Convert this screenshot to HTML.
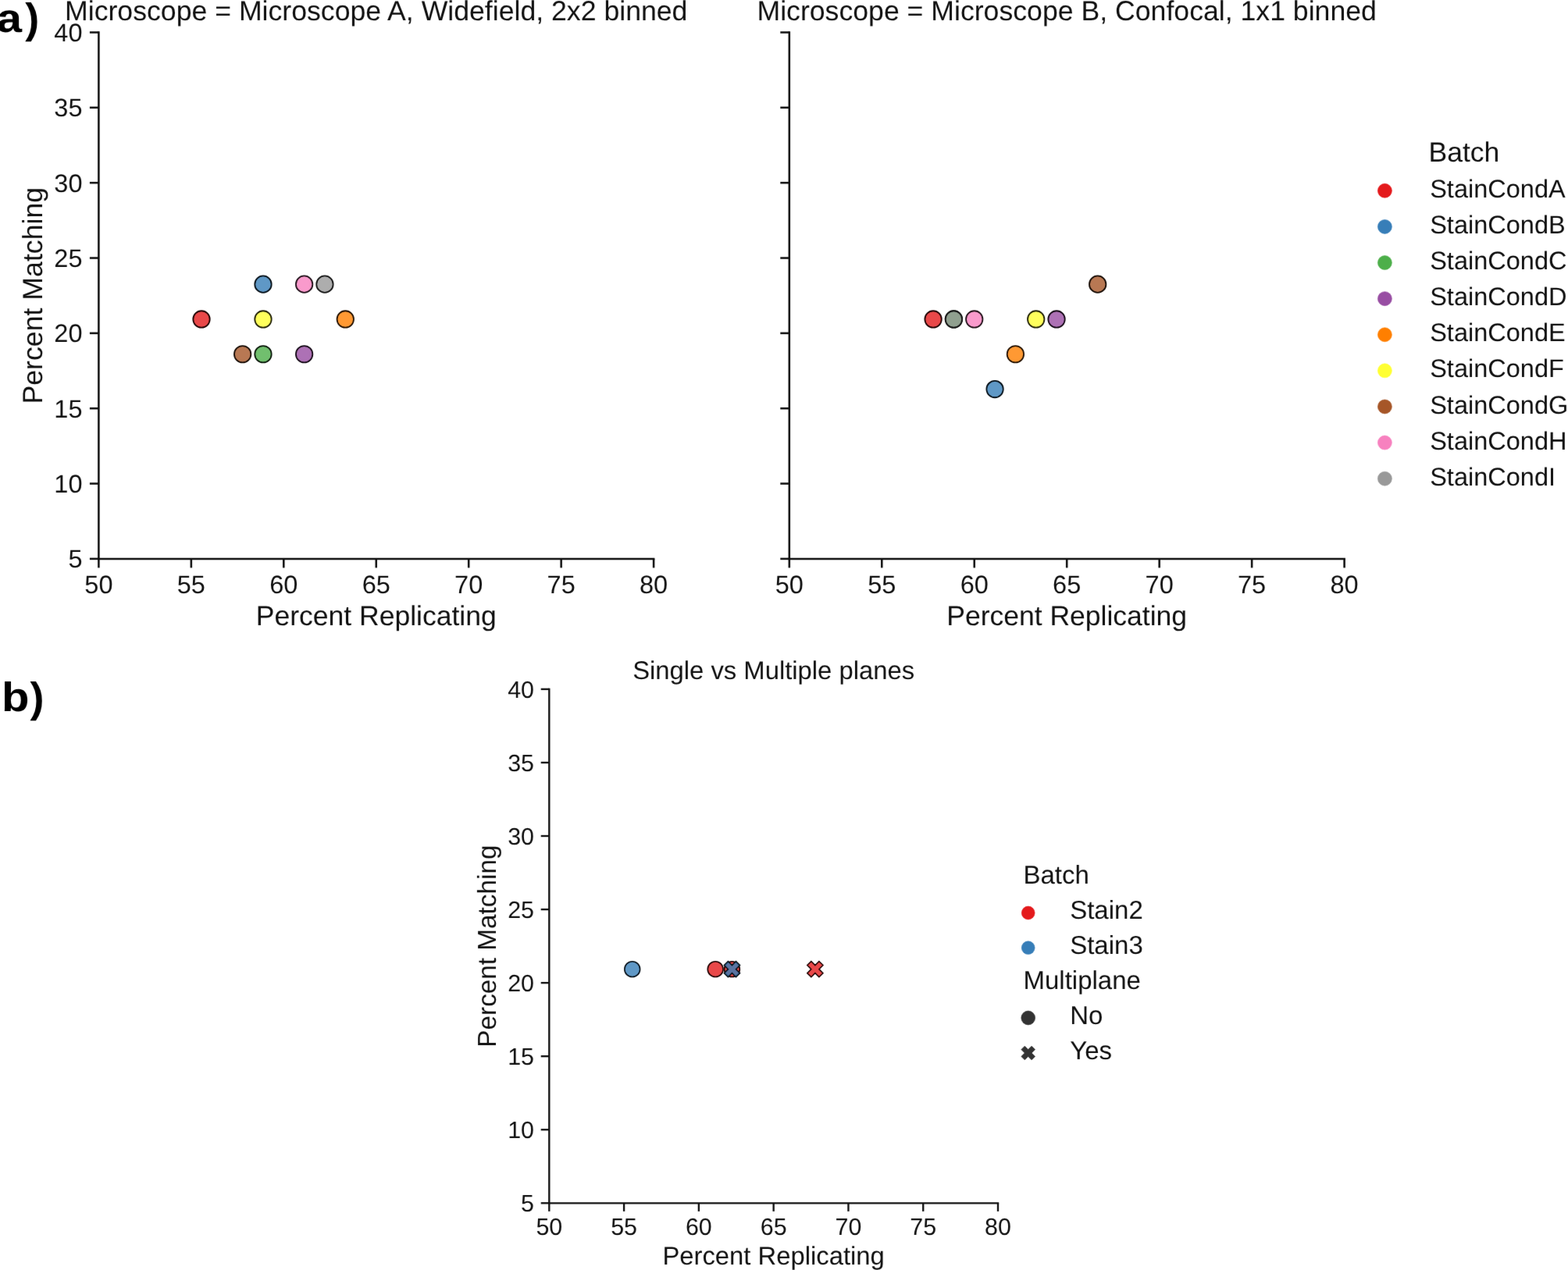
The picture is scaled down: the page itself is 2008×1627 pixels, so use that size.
<!DOCTYPE html>
<html><head><meta charset="utf-8"><title>Figure</title>
<style>html,body{margin:0;padding:0;background:#fff;width:2008px;height:1627px;overflow:hidden} svg{display:block}</style>
</head><body>
<svg width="2008" height="1627" viewBox="0 0 2008 1627" font-family="'Liberation Sans', Arial, Helvetica, sans-serif" fill="#111" text-rendering="geometricPrecision">
<defs><filter id="soft" x="0" y="0" width="100%" height="100%" filterUnits="userSpaceOnUse" color-interpolation-filters="sRGB"><feConvolveMatrix order="3" kernelMatrix="0.00276 0.04704 0.00276 0.04704 0.80077 0.04704 0.00276 0.04704 0.00276" edgeMode="duplicate"/></filter></defs>
<g filter="url(#soft)">
<rect width="2008" height="1627" fill="#fff"/>
<g font-size="54" font-weight="bold" fill="#000">
<text transform="translate(-4.25,40.8) scale(1.075,0.955)">a</text>
<text x="32.3" y="41.7">)</text>
<text transform="translate(1.95,910.6) scale(1.075,0.9725)">b</text>
<text x="38.5" y="911.6">)</text>
</g>
<line x1="126.4" y1="715.9" x2="126.4" y2="40.225" stroke="#111" stroke-width="2.55" stroke-linecap="butt"/>
<line x1="125.125" y1="715.9" x2="838.375" y2="715.9" stroke="#111" stroke-width="2.55"/>
<line x1="114.9" y1="715.90" x2="126.4" y2="715.90" stroke="#111" stroke-width="2.55"/>
<text x="105.5" y="715.90" dy="0.355em" text-anchor="end" font-size="32.5">5</text>
<line x1="114.9" y1="619.56" x2="126.4" y2="619.56" stroke="#111" stroke-width="2.55"/>
<text x="105.5" y="619.56" dy="0.355em" text-anchor="end" font-size="32.5">10</text>
<line x1="114.9" y1="523.21" x2="126.4" y2="523.21" stroke="#111" stroke-width="2.55"/>
<text x="105.5" y="523.21" dy="0.355em" text-anchor="end" font-size="32.5">15</text>
<line x1="114.9" y1="426.87" x2="126.4" y2="426.87" stroke="#111" stroke-width="2.55"/>
<text x="105.5" y="426.87" dy="0.355em" text-anchor="end" font-size="32.5">20</text>
<line x1="114.9" y1="330.53" x2="126.4" y2="330.53" stroke="#111" stroke-width="2.55"/>
<text x="105.5" y="330.53" dy="0.355em" text-anchor="end" font-size="32.5">25</text>
<line x1="114.9" y1="234.19" x2="126.4" y2="234.19" stroke="#111" stroke-width="2.55"/>
<text x="105.5" y="234.19" dy="0.355em" text-anchor="end" font-size="32.5">30</text>
<line x1="114.9" y1="137.84" x2="126.4" y2="137.84" stroke="#111" stroke-width="2.55"/>
<text x="105.5" y="137.84" dy="0.355em" text-anchor="end" font-size="32.5">35</text>
<line x1="114.9" y1="41.50" x2="126.4" y2="41.50" stroke="#111" stroke-width="2.55"/>
<text x="105.5" y="41.50" dy="0.355em" text-anchor="end" font-size="32.5">40</text>
<line x1="126.40" y1="715.9" x2="126.40" y2="727.4" stroke="#111" stroke-width="2.55"/>
<text x="126.40" y="759.55" text-anchor="middle" font-size="32.5">50</text>
<line x1="244.85" y1="715.9" x2="244.85" y2="727.4" stroke="#111" stroke-width="2.55"/>
<text x="244.85" y="759.55" text-anchor="middle" font-size="32.5">55</text>
<line x1="363.30" y1="715.9" x2="363.30" y2="727.4" stroke="#111" stroke-width="2.55"/>
<text x="363.30" y="759.55" text-anchor="middle" font-size="32.5">60</text>
<line x1="481.75" y1="715.9" x2="481.75" y2="727.4" stroke="#111" stroke-width="2.55"/>
<text x="481.75" y="759.55" text-anchor="middle" font-size="32.5">65</text>
<line x1="600.20" y1="715.9" x2="600.20" y2="727.4" stroke="#111" stroke-width="2.55"/>
<text x="600.20" y="759.55" text-anchor="middle" font-size="32.5">70</text>
<line x1="718.65" y1="715.9" x2="718.65" y2="727.4" stroke="#111" stroke-width="2.55"/>
<text x="718.65" y="759.55" text-anchor="middle" font-size="32.5">75</text>
<line x1="837.10" y1="715.9" x2="837.10" y2="727.4" stroke="#111" stroke-width="2.55"/>
<text x="837.10" y="759.55" text-anchor="middle" font-size="32.5">80</text>
<line x1="1010.8" y1="715.9" x2="1010.8" y2="40.225" stroke="#111" stroke-width="2.55" stroke-linecap="butt"/>
<line x1="1009.525" y1="715.9" x2="1722.875" y2="715.9" stroke="#111" stroke-width="2.55"/>
<line x1="999.3" y1="715.90" x2="1010.8" y2="715.90" stroke="#111" stroke-width="2.55"/>
<line x1="999.3" y1="619.56" x2="1010.8" y2="619.56" stroke="#111" stroke-width="2.55"/>
<line x1="999.3" y1="523.21" x2="1010.8" y2="523.21" stroke="#111" stroke-width="2.55"/>
<line x1="999.3" y1="426.87" x2="1010.8" y2="426.87" stroke="#111" stroke-width="2.55"/>
<line x1="999.3" y1="330.53" x2="1010.8" y2="330.53" stroke="#111" stroke-width="2.55"/>
<line x1="999.3" y1="234.19" x2="1010.8" y2="234.19" stroke="#111" stroke-width="2.55"/>
<line x1="999.3" y1="137.84" x2="1010.8" y2="137.84" stroke="#111" stroke-width="2.55"/>
<line x1="999.3" y1="41.50" x2="1010.8" y2="41.50" stroke="#111" stroke-width="2.55"/>
<line x1="1010.80" y1="715.9" x2="1010.80" y2="727.4" stroke="#111" stroke-width="2.55"/>
<text x="1010.80" y="759.55" text-anchor="middle" font-size="32.5">50</text>
<line x1="1129.27" y1="715.9" x2="1129.27" y2="727.4" stroke="#111" stroke-width="2.55"/>
<text x="1129.27" y="759.55" text-anchor="middle" font-size="32.5">55</text>
<line x1="1247.73" y1="715.9" x2="1247.73" y2="727.4" stroke="#111" stroke-width="2.55"/>
<text x="1247.73" y="759.55" text-anchor="middle" font-size="32.5">60</text>
<line x1="1366.20" y1="715.9" x2="1366.20" y2="727.4" stroke="#111" stroke-width="2.55"/>
<text x="1366.20" y="759.55" text-anchor="middle" font-size="32.5">65</text>
<line x1="1484.67" y1="715.9" x2="1484.67" y2="727.4" stroke="#111" stroke-width="2.55"/>
<text x="1484.67" y="759.55" text-anchor="middle" font-size="32.5">70</text>
<line x1="1603.13" y1="715.9" x2="1603.13" y2="727.4" stroke="#111" stroke-width="2.55"/>
<text x="1603.13" y="759.55" text-anchor="middle" font-size="32.5">75</text>
<line x1="1721.60" y1="715.9" x2="1721.60" y2="727.4" stroke="#111" stroke-width="2.55"/>
<text x="1721.60" y="759.55" text-anchor="middle" font-size="32.5">80</text>
<text x="481.75" y="26.3" text-anchor="middle" font-size="35.65">Microscope = Microscope A, Widefield, 2x2 binned</text>
<text x="1366.20" y="26.3" text-anchor="middle" font-size="35.65">Microscope = Microscope B, Confocal, 1x1 binned</text>
<text x="481.75" y="801.1" text-anchor="middle" font-size="35.5">Percent Replicating</text>
<text x="1366.20" y="801.1" text-anchor="middle" font-size="35.5">Percent Replicating</text>
<text transform="translate(53.8,378.70) rotate(-90)" x="0" y="0" text-anchor="middle" font-size="35.7">Percent Matching</text>
<circle cx="258.01" cy="408.95" r="10.7" fill="#e41a1c" fill-opacity="0.8" stroke="#1f0303" stroke-width="1.8"/>
<circle cx="336.98" cy="364.14" r="10.7" fill="#377eb8" fill-opacity="0.8" stroke="#071119" stroke-width="1.8"/>
<circle cx="336.98" cy="453.76" r="10.7" fill="#4daf4a" fill-opacity="0.8" stroke="#0a180a" stroke-width="1.8"/>
<circle cx="389.62" cy="453.76" r="10.7" fill="#984ea3" fill-opacity="0.8" stroke="#150a16" stroke-width="1.8"/>
<circle cx="442.27" cy="408.95" r="10.7" fill="#ff7f00" fill-opacity="0.8" stroke="#231100" stroke-width="1.8"/>
<circle cx="336.98" cy="408.95" r="10.7" fill="#ffff33" fill-opacity="0.8" stroke="#232307" stroke-width="1.8"/>
<circle cx="310.66" cy="453.76" r="10.7" fill="#a65628" fill-opacity="0.8" stroke="#170c05" stroke-width="1.8"/>
<circle cx="389.62" cy="364.14" r="10.7" fill="#f781bf" fill-opacity="0.8" stroke="#22121a" stroke-width="1.8"/>
<circle cx="415.94" cy="364.14" r="10.7" fill="#999999" fill-opacity="0.8" stroke="#151515" stroke-width="1.8"/>
<circle cx="1195.08" cy="408.95" r="10.7" fill="#e41a1c" fill-opacity="0.8" stroke="#1f0303" stroke-width="1.8"/>
<circle cx="1274.06" cy="498.57" r="10.7" fill="#377eb8" fill-opacity="0.8" stroke="#071119" stroke-width="1.8"/>
<circle cx="1221.41" cy="408.95" r="10.7" fill="#4daf4a" fill-opacity="0.8" stroke="#0a180a" stroke-width="1.8"/>
<circle cx="1353.04" cy="408.95" r="10.7" fill="#984ea3" fill-opacity="0.8" stroke="#150a16" stroke-width="1.8"/>
<circle cx="1300.39" cy="453.76" r="10.7" fill="#ff7f00" fill-opacity="0.8" stroke="#231100" stroke-width="1.8"/>
<circle cx="1326.71" cy="408.95" r="10.7" fill="#ffff33" fill-opacity="0.8" stroke="#232307" stroke-width="1.8"/>
<circle cx="1405.69" cy="364.14" r="10.7" fill="#a65628" fill-opacity="0.8" stroke="#170c05" stroke-width="1.8"/>
<circle cx="1247.73" cy="408.95" r="10.7" fill="#f781bf" fill-opacity="0.8" stroke="#22121a" stroke-width="1.8"/>
<circle cx="1221.41" cy="408.95" r="10.7" fill="#999999" fill-opacity="0.8" stroke="#151515" stroke-width="1.8"/>
<text x="1829.5" y="206.7" font-size="35.5">Batch</text>
<circle cx="1773.4" cy="244.30" r="9.0" fill="#e41a1c" stroke="#e41a1c" stroke-width="0.6"/>
<text x="1831.2" y="252.90" font-size="32.5">StainCondA</text>
<circle cx="1773.4" cy="290.41" r="9.0" fill="#377eb8" stroke="#377eb8" stroke-width="0.6"/>
<text x="1831.2" y="299.01" font-size="32.5">StainCondB</text>
<circle cx="1773.4" cy="336.52" r="9.0" fill="#4daf4a" stroke="#4daf4a" stroke-width="0.6"/>
<text x="1831.2" y="345.12" font-size="32.5">StainCondC</text>
<circle cx="1773.4" cy="382.63" r="9.0" fill="#984ea3" stroke="#984ea3" stroke-width="0.6"/>
<text x="1831.2" y="391.23" font-size="32.5">StainCondD</text>
<circle cx="1773.4" cy="428.74" r="9.0" fill="#ff7f00" stroke="#ff7f00" stroke-width="0.6"/>
<text x="1831.2" y="437.34" font-size="32.5">StainCondE</text>
<circle cx="1773.4" cy="474.85" r="9.0" fill="#ffff33" stroke="#ffff33" stroke-width="0.6"/>
<text x="1831.2" y="483.45" font-size="32.5">StainCondF</text>
<circle cx="1773.4" cy="520.96" r="9.0" fill="#a65628" stroke="#a65628" stroke-width="0.6"/>
<text x="1831.2" y="529.56" font-size="32.5">StainCondG</text>
<circle cx="1773.4" cy="567.07" r="9.0" fill="#f781bf" stroke="#f781bf" stroke-width="0.6"/>
<text x="1831.2" y="575.67" font-size="32.5">StainCondH</text>
<circle cx="1773.4" cy="613.18" r="9.0" fill="#999999" stroke="#999999" stroke-width="0.6"/>
<text x="1831.2" y="621.78" font-size="32.5">StainCondI</text>
<line x1="703.3" y1="1541.3" x2="703.3" y2="881.725" stroke="#111" stroke-width="2.35" stroke-linecap="butt"/>
<line x1="702.125" y1="1541.3" x2="1279.175" y2="1541.3" stroke="#111" stroke-width="2.35"/>
<line x1="692.6999999999999" y1="1541.30" x2="703.3" y2="1541.30" stroke="#111" stroke-width="2.35"/>
<text x="684.0" y="1541.30" dy="0.355em" text-anchor="end" font-size="30.4">5</text>
<line x1="692.6999999999999" y1="1447.24" x2="703.3" y2="1447.24" stroke="#111" stroke-width="2.35"/>
<text x="684.0" y="1447.24" dy="0.355em" text-anchor="end" font-size="30.4">10</text>
<line x1="692.6999999999999" y1="1353.19" x2="703.3" y2="1353.19" stroke="#111" stroke-width="2.35"/>
<text x="684.0" y="1353.19" dy="0.355em" text-anchor="end" font-size="30.4">15</text>
<line x1="692.6999999999999" y1="1259.13" x2="703.3" y2="1259.13" stroke="#111" stroke-width="2.35"/>
<text x="684.0" y="1259.13" dy="0.355em" text-anchor="end" font-size="30.4">20</text>
<line x1="692.6999999999999" y1="1165.07" x2="703.3" y2="1165.07" stroke="#111" stroke-width="2.35"/>
<text x="684.0" y="1165.07" dy="0.355em" text-anchor="end" font-size="30.4">25</text>
<line x1="692.6999999999999" y1="1071.01" x2="703.3" y2="1071.01" stroke="#111" stroke-width="2.35"/>
<text x="684.0" y="1071.01" dy="0.355em" text-anchor="end" font-size="30.4">30</text>
<line x1="692.6999999999999" y1="976.96" x2="703.3" y2="976.96" stroke="#111" stroke-width="2.35"/>
<text x="684.0" y="976.96" dy="0.355em" text-anchor="end" font-size="30.4">35</text>
<line x1="692.6999999999999" y1="882.90" x2="703.3" y2="882.90" stroke="#111" stroke-width="2.35"/>
<text x="684.0" y="882.90" dy="0.355em" text-anchor="end" font-size="30.4">40</text>
<line x1="703.30" y1="1541.3" x2="703.30" y2="1551.8999999999999" stroke="#111" stroke-width="2.35"/>
<text x="703.30" y="1581.7" text-anchor="middle" font-size="30.4">50</text>
<line x1="799.08" y1="1541.3" x2="799.08" y2="1551.8999999999999" stroke="#111" stroke-width="2.35"/>
<text x="799.08" y="1581.7" text-anchor="middle" font-size="30.4">55</text>
<line x1="894.87" y1="1541.3" x2="894.87" y2="1551.8999999999999" stroke="#111" stroke-width="2.35"/>
<text x="894.87" y="1581.7" text-anchor="middle" font-size="30.4">60</text>
<line x1="990.65" y1="1541.3" x2="990.65" y2="1551.8999999999999" stroke="#111" stroke-width="2.35"/>
<text x="990.65" y="1581.7" text-anchor="middle" font-size="30.4">65</text>
<line x1="1086.43" y1="1541.3" x2="1086.43" y2="1551.8999999999999" stroke="#111" stroke-width="2.35"/>
<text x="1086.43" y="1581.7" text-anchor="middle" font-size="30.4">70</text>
<line x1="1182.22" y1="1541.3" x2="1182.22" y2="1551.8999999999999" stroke="#111" stroke-width="2.35"/>
<text x="1182.22" y="1581.7" text-anchor="middle" font-size="30.4">75</text>
<line x1="1278.00" y1="1541.3" x2="1278.00" y2="1551.8999999999999" stroke="#111" stroke-width="2.35"/>
<text x="1278.00" y="1581.7" text-anchor="middle" font-size="30.4">80</text>
<text x="990.65" y="869.6" text-anchor="middle" font-size="32.8">Single vs Multiple planes</text>
<text x="990.65" y="1619.5" text-anchor="middle" font-size="32.8">Percent Replicating</text>
<text transform="translate(635.2,1212.10) rotate(-90)" x="0" y="0" text-anchor="middle" font-size="33.3">Percent Matching</text>
<circle cx="809.73" cy="1241.63" r="9.9" fill="#377eb8" fill-opacity="0.8" stroke="#071119" stroke-width="1.6"/>
<circle cx="916.15" cy="1241.63" r="9.9" fill="#e41a1c" fill-opacity="0.8" stroke="#1f0303" stroke-width="1.6"/>
<circle cx="937.44" cy="1241.63" r="9.9" fill="#e41a1c" fill-opacity="0.8" stroke="#1f0303" stroke-width="1.6"/>
<path d="M932.39,1231.53 L937.44,1236.58 L942.49,1231.53 L947.54,1236.58 L942.49,1241.63 L947.54,1246.68 L942.49,1251.73 L937.44,1246.68 L932.39,1251.73 L927.34,1246.68 L932.39,1241.63 L927.34,1236.58 Z" fill="#377eb8" fill-opacity="0.8" stroke="#071119" stroke-width="1.5" stroke-linejoin="miter"/>
<path d="M1038.81,1231.53 L1043.86,1236.58 L1048.91,1231.53 L1053.96,1236.58 L1048.91,1241.63 L1053.96,1246.68 L1048.91,1251.73 L1043.86,1246.68 L1038.81,1251.73 L1033.76,1246.68 L1038.81,1241.63 L1033.76,1236.58 Z" fill="#e41a1c" fill-opacity="0.8" stroke="#1f0303" stroke-width="1.5" stroke-linejoin="miter"/>
<text x="1310.5" y="1132.3" font-size="33.0">Batch</text>
<circle cx="1316.7" cy="1169.5" r="8.4" fill="#e41a1c" stroke="#e41a1c" stroke-width="0.6"/>
<text x="1370.2" y="1177.1" font-size="33.0">Stain2</text>
<circle cx="1316.7" cy="1214.2" r="8.4" fill="#377eb8" stroke="#377eb8" stroke-width="0.6"/>
<text x="1370.2" y="1221.9" font-size="33.0">Stain3</text>
<text x="1310.5" y="1267.1" font-size="33.0">Multiplane</text>
<circle cx="1316.7" cy="1304" r="8.9" fill="#333" stroke="#333" stroke-width="0.6"/>
<text x="1370.2" y="1311.9" font-size="33.0">No</text>
<path d="M1312.30,1340.20 L1316.70,1344.60 L1321.10,1340.20 L1325.50,1344.60 L1321.10,1349.00 L1325.50,1353.40 L1321.10,1357.80 L1316.70,1353.40 L1312.30,1357.80 L1307.90,1353.40 L1312.30,1349.00 L1307.90,1344.60 Z" fill="#333" stroke="#333" stroke-width="0.8" stroke-linejoin="miter"/>
<text x="1370.2" y="1356.7" font-size="33.0">Yes</text>
</g>
</svg>
</body></html>
